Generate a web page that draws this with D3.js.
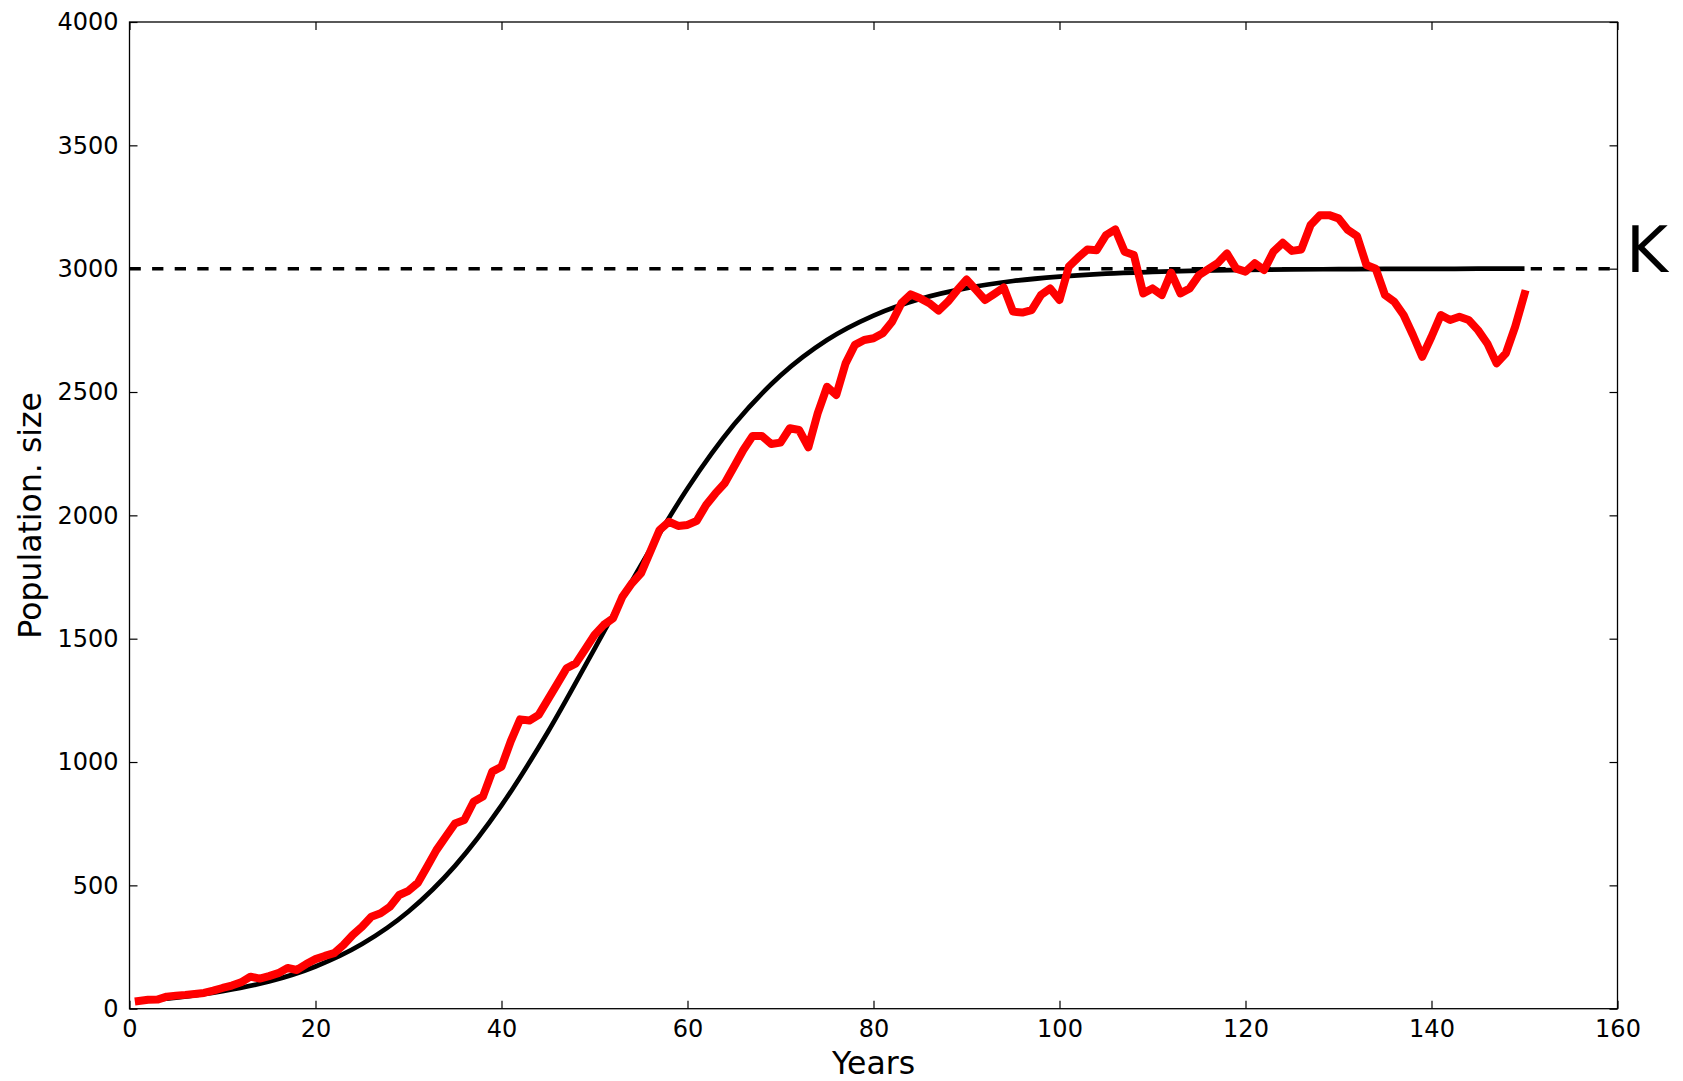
<!DOCTYPE html>
<html>
<head>
<meta charset="utf-8">
<script src="https://cdn.jsdelivr.net/npm/d3@7"></script>
<style>
  html, body { margin: 0; padding: 0; background: #fff; }
  svg { display: block; }
  text { font-family: "DejaVu Sans", sans-serif; fill: #000; }
</style>
</head>
<body>
<script>
// Simulated population (one value per year, years 1..150)
const simValues = [
  31, 36, 37, 49, 53, 56, 60, 64, 73, 84,
  94, 107, 130, 122, 132, 144, 165, 157, 181, 201,
  214, 225, 258, 299, 332, 373, 387, 413, 461, 478,
  510, 575, 643, 697, 751, 765, 839, 860, 961, 981,
  1085, 1173, 1168, 1191, 1254, 1317, 1380, 1400, 1457, 1515,
  1556, 1583, 1670, 1724, 1765, 1853, 1941, 1974, 1957, 1961,
  1978, 2042, 2089, 2130, 2197, 2265, 2322, 2322, 2289, 2295,
  2353, 2346, 2276, 2414, 2521, 2488, 2616, 2691, 2711, 2718,
  2738, 2785, 2860, 2896, 2880, 2860, 2830, 2866, 2913, 2956,
  2915, 2873, 2898, 2924, 2826, 2822, 2832, 2893, 2920, 2873,
  3008, 3045, 3078, 3075, 3136, 3159, 3069, 3055, 2900, 2920,
  2893, 2984, 2900, 2920, 2974, 2998, 3022, 3062, 3000, 2988,
  3022, 2995, 3069, 3105, 3072, 3078, 3177, 3217, 3217, 3204,
  3157, 3132, 3015, 3000, 2893, 2866, 2812, 2731, 2643, 2724,
  2812, 2792, 2805, 2792, 2751, 2697, 2616, 2657, 2765, 2897
];
const simYears = simValues.map((_, i) => i + 1);

// Logistic growth curve
const modelYears  = [1, 5, 10, 15, 20, 25, 30, 35, 40, 45, 50, 55, 60, 65, 70, 75,
                     80, 85, 90, 95, 100, 105, 110, 115, 120, 125, 130, 135, 140, 145, 150];
const modelValues = [31, 45, 71, 110, 171, 262, 394, 579, 824, 1123, 1459, 1798, 2109, 2368, 2567, 2711,
                     2810, 2877, 2921, 2950, 2968, 2980, 2987, 2992, 2995, 2997, 2998, 2999, 2999, 3000, 3000];

// Carrying capacity
const carryingCapacity = 3000;
const capacityLabel = "K";

// Axis ticks and titles
const xTicks = [0, 20, 40, 60, 80, 100, 120, 140, 160];
const yTicks = [0, 500, 1000, 1500, 2000, 2500, 3000, 3500, 4000];
const xTitle = "Years";
const yTitle = "Population. size";

const W = 1683, H = 1081;
const plot = { left: 129.5, right: 1617.5, top: 22, bottom: 1008.7 };

const x = d3.scaleLinear().domain([0, 160]).range([plot.left, plot.right]);
const y = d3.scaleLinear().domain([0, 4000]).range([plot.bottom, plot.top]);

const svg = d3.select("body").append("svg")
  .attr("width", W).attr("height", H);

// Axes: inward ticks on all four sides, labels on bottom and left
function styleAxis(g) {
  g.select(".domain").remove();
  g.selectAll(".tick line").attr("stroke", "#000").attr("stroke-width", 1.2);
  g.selectAll(".tick text")
    .style("font-family", "'DejaVu Sans', sans-serif")
    .style("font-size", "24px")
    .attr("fill", "#000");
}

svg.append("g")
  .attr("transform", `translate(0,${plot.bottom})`)
  .call(d3.axisBottom(x).tickValues(xTicks).tickFormat(d3.format("d"))
        .tickSize(-8).tickSizeOuter(0).tickPadding(11))
  .call(styleAxis);

svg.append("g")
  .attr("transform", `translate(0,${plot.top})`)
  .call(d3.axisTop(x).tickValues(xTicks).tickFormat("")
        .tickSize(-8).tickSizeOuter(0))
  .call(styleAxis);

svg.append("g")
  .attr("transform", `translate(${plot.left},0)`)
  .call(d3.axisLeft(y).tickValues(yTicks).tickFormat(d3.format("d"))
        .tickSize(-8).tickSizeOuter(0).tickPadding(11))
  .call(styleAxis);

svg.append("g")
  .attr("transform", `translate(${plot.right},0)`)
  .call(d3.axisRight(y).tickValues(yTicks).tickFormat("")
        .tickSize(-8).tickSizeOuter(0))
  .call(styleAxis);

// Clip lines to the plotting area
svg.append("clipPath").attr("id", "plot-clip")
  .append("rect")
  .attr("x", plot.left).attr("y", plot.top)
  .attr("width", plot.right - plot.left).attr("height", plot.bottom - plot.top);

const layer = svg.append("g").attr("clip-path", "url(#plot-clip)");

// Dashed carrying-capacity line
layer.append("line")
  .attr("x1", x(0)).attr("x2", x(160))
  .attr("y1", y(carryingCapacity)).attr("y2", y(carryingCapacity))
  .attr("stroke", "#000")
  .attr("stroke-width", 3.6)
  .attr("stroke-dasharray", "11.3,11.3");

// Logistic model curve
const modelLine = d3.line()
  .x((d, i) => x(modelYears[i]))
  .y(d => y(d))
  .curve(d3.curveMonotoneX);

layer.append("path")
  .datum(modelValues)
  .attr("d", modelLine)
  .attr("fill", "none")
  .attr("stroke", "#000")
  .attr("stroke-width", 4.7);

// Simulated population
const simLine = d3.line()
  .x((d, i) => x(simYears[i]))
  .y(d => y(d));

layer.append("path")
  .datum(simValues)
  .attr("d", simLine)
  .attr("fill", "none")
  .attr("stroke", "#ff0000")
  .attr("stroke-width", 8)
  .attr("stroke-linejoin", "round")
  .attr("stroke-linecap", "square");

// Frame
svg.append("rect")
  .attr("x", plot.left).attr("y", plot.top)
  .attr("width", plot.right - plot.left).attr("height", plot.bottom - plot.top)
  .attr("fill", "none")
  .attr("stroke", "#000")
  .attr("stroke-width", 1.3);

// K label beside the capacity line
svg.append("text")
  .attr("x", 1626)
  .attr("y", y(carryingCapacity) + 3.5)
  .style("font-size", "64px")
  .text(capacityLabel);

// Axis titles
svg.append("text")
  .attr("x", (plot.left + plot.right) / 2)
  .attr("y", 1074)
  .attr("text-anchor", "middle")
  .style("font-size", "31.5px")
  .text(xTitle);

svg.append("text")
  .attr("transform", `translate(41,${(plot.top + plot.bottom) / 2}) rotate(-90)`)
  .attr("text-anchor", "middle")
  .style("font-size", "31.5px")
  .text(yTitle);
</script>
</body>
</html>
